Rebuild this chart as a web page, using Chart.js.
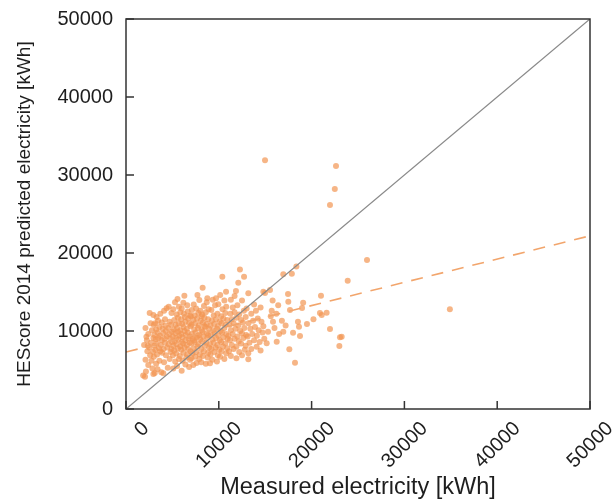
<!DOCTYPE html>
<html>
<head>
<meta charset="utf-8">
<title>HEScore 2014 vs measured electricity</title>
<script src="https://cdn.jsdelivr.net/npm/chart.js@4.4.1/dist/chart.umd.min.js"></script>
<style>
  html, body { margin: 0; padding: 0; background: #fff; }
  #chart { display: block; }
</style>
</head>
<body>
<canvas id="chart" width="614" height="502"></canvas>
<script>
// measured (x) and HEScore predicted (y) electricity per home, kWh
const measuredKwh = [
  1850, 2050, 2150, 2400, 2100, 2600, 2300, 2900, 2500, 1950, 2700, 2250, 2950, 2400, 2800, 2100, 2650, 2950, 2550, 2200, 2850, 2950, 2750, 2350,
  3100, 3400, 3800, 4020, 4500, 3250, 3600, 4100, 4700, 3000, 3350, 3900, 4300, 4800, 3150, 3550, 3700, 4050, 4450, 4900, 3050, 3300, 3750, 4200, 4600, 4950,
  3200, 3500, 3850, 4150, 4400, 4750, 3050, 3400, 3650, 4000, 4300, 4650, 4950, 3250, 3600, 3950, 4250, 4550, 4850, 3150, 3450, 3850, 4200, 4700, 4380, 3700,
  4900, 4100, 3300, 4600, 3000,
  5100, 5500, 6000, 6400, 6800, 5300, 5700, 6100, 6500, 6900, 5050, 5400, 5800, 6200, 6600, 6950, 5200, 5600, 5950, 6300, 6700, 5100, 5450, 5850, 6150, 6550,
  6850, 5250, 5650, 6000, 6400, 6750, 5050, 5400, 5750, 6100, 6450, 6900, 5300, 5600, 5950, 6300, 6650, 5150, 5500, 5850, 6200, 6550, 6950, 5350, 5700, 6050,
  6400, 6800, 5200, 5600, 5950, 6350, 6700, 5450, 5850, 6250, 6650, 5280, 6180, 6290, 5700, 6600, 5100, 6900, 6000, 5550,
  7250, 7600, 8100, 8600, 7050, 7450, 7900, 8300, 8800, 7150, 7550, 7950, 8400, 8850, 7300, 7700, 8100, 8500, 8950, 7050, 7400, 7800, 8200, 8650, 7200, 7600,
  8000, 8350, 8750, 7100, 7500, 7900, 8250, 8700, 7350, 7750, 8150, 8550, 8950, 7050, 7450, 7850, 8300, 8700, 7250, 7650, 8050, 8450, 8850, 7400, 7800, 8200,
  8600, 7100, 7550, 8000, 8900, 7900, 8760, 8260, 7300, 8400, 8700, 9050, 7700, 7000, 8150, 7750, 8450, 7350, 8850,
  9300, 9800, 10130, 10600, 9100, 9500, 9900, 10300, 10800, 9200, 9650, 10050, 10450, 10900, 9050, 9450, 9850, 10250, 10700, 9300, 9700, 10100, 10500, 10950,
  9150, 9550, 9950, 10350, 10800, 9400, 9800, 10200, 10600, 9100, 9500, 9900, 10300, 10750, 9250, 9700, 10100, 10500, 10900, 9450, 9850, 10250, 10700, 9950,
  9200, 10400, 10800, 9600, 10380, 10780, 9700, 10150, 9350, 10600,
  11300, 11900, 12500, 11100, 11600, 12200, 12800, 11400, 11900, 12400, 12900, 11200, 11700, 12150, 12650, 11050, 11500, 12000, 12500, 12950, 11300, 11800,
  12300, 12750, 11150, 11600, 12100, 12600, 11400, 11900, 12400, 12900, 11250, 11700, 12200, 12700, 11500, 12000, 11850, 12100, 12280, 12720, 11300, 12500,
  11700, 13000,
  13180, 13180, 14080, 13500, 14500, 13300, 13800, 14400, 14900, 13100, 13600, 14100, 14700, 13400, 13900, 14300, 14800, 13200, 13700, 14200, 14600, 13500,
  14000, 13180, 14800, 14980, 13800, 14500, 15160,
  15520, 15700, 15840, 16240, 15300, 16000, 16500, 16950, 15600, 16200, 16800, 17460, 16950, 17870, 17490, 17670, 17600, 16400, 15800, 17200,
  18360, 18000, 18210, 18530, 18640, 18750, 18970, 19090, 20900, 21620, 21010, 21090, 21980, 23060, 22990, 23240, 23890, 19500, 20200,
  14980, 22630, 22500, 21980, 25970, 34900
];
const predictedKwh = [
  4300, 4150, 4800, 5650, 6300, 6900, 7400, 7350, 7900, 8200, 8500, 8800, 9100, 9600, 10100, 10400, 11000, 12050, 12300, 9250, 5200, 4500, 6200, 8100,
  4600, 5100, 4700, 4570, 5300, 5800, 6200, 6000, 6400, 6700, 7000, 7200, 6900, 7300, 7600, 7800, 7400, 7700, 7900, 7700, 8100, 8400, 8200, 8500, 8300, 8600,
  8900, 9100, 8800, 9000, 9300, 9050, 9500, 9800, 9400, 9700, 10000, 9600, 9900, 10200, 10500, 10300, 10700, 10400, 10800, 11000, 11300, 11100, 11500, 11200, 12910, 12200,
  12300, 12600, 11800, 13100, 10800,
  5200, 5500, 4910, 5700, 5400, 6100, 6400, 6200, 6600, 6300, 6900, 7100, 6800, 7200, 7000, 7400, 7500, 7800, 7600, 7900, 7700, 8100, 8300, 8000, 8400, 8200,
  8500, 8700, 8900, 8600, 8800, 9000, 9300, 9100, 9400, 9200, 9500, 9300, 9700, 9900, 9600, 10000, 9800, 10200, 10400, 10100, 10500, 10300, 10600, 10800, 11000, 10900,
  11200, 11000, 11400, 11700, 11500, 11800, 11600, 12100, 12400, 12200, 12500, 13680, 13630, 14530, 13100, 13300, 12800, 12000, 12900, 14100,
  5640, 5900, 6000, 5800, 6500, 6700, 6400, 6800, 6600, 7100, 7300, 7000, 7400, 7200, 7800, 8000, 7700, 8100, 7900, 8400, 8600, 8300, 8700, 8500, 9000, 9200,
  8900, 9300, 9100, 9600, 9800, 9500, 9900, 9700, 10200, 10400, 10100, 10500, 10300, 10800, 11000, 10700, 11100, 10900, 11400, 11600, 11300, 11700, 11500, 12000, 12300, 12100,
  12400, 12700, 12900, 12600, 12800, 13970, 14190, 15550, 13400, 13200, 13700, 5860, 14600, 11900, 11900, 9400, 10600, 8800, 9500,
  6300, 6100, 6710, 6400, 7000, 7300, 6900, 7400, 7100, 7700, 7900, 7600, 8000, 7800, 8300, 8500, 8200, 8600, 8400, 8900, 9100, 8800, 9200, 9000,
  9500, 9700, 9400, 9800, 9600, 10100, 10300, 10000, 10400, 10700, 10900, 10600, 11000, 10800, 11300, 11500, 11200, 11600, 11400, 12000, 12200, 11900, 12300, 13420,
  12700, 12800, 13100, 13300, 16960, 15040, 14200, 14600, 14000, 13900,
  6800, 6500, 6900, 7400, 7700, 7300, 7600, 8200, 8000, 8400, 8100, 8800, 9000, 8700, 9100, 9400, 9600, 9300, 9700, 9500, 10100, 10300,
  10000, 10400, 10800, 11000, 10700, 11100, 11500, 11700, 11400, 11800, 12200, 12400, 12100, 12600, 13000, 13300, 15130, 16200, 17900, 16960, 14000, 13900,
  14500, 12900,
  7140, 6370, 7990, 7700, 7500, 8500, 8800, 8600, 9000, 9300, 9600, 9400, 9800, 10300, 10500, 10100, 10600, 11000, 11300, 11600, 11200, 12200,
  12600, 14830, 15040, 14870, 13400, 13000, 8420,
  15260, 12600, 11200, 8630, 9900, 10400, 9600, 9910, 11900, 12200, 11300, 14740, 17280, 17350, 13760, 12690, 7650, 13300, 13900, 10700,
  18280, 9780, 5940, 11200, 10550, 9360, 12950, 13630, 12300, 12350, 14530, 12050, 10260, 9190, 8080, 9270, 16450, 10900, 11500,
  31900, 31150, 28200, 26150, 19100, 12800
];

// y = x reference line and the fitted trend (dashed)
const identityX = [0, 50000];
const identityY = [0, 50000];
const fitX = [0, 50000];
const fitY = [7300, 22200];

const axisMax = 50000;
const axisStep = 10000;

const toPoints = (xs, ys) => xs.map((x, i) => ({ x: x, y: ys[i] }));

// box around the plot plus short ticks pointing inward
const frameAndTicks = {
  id: 'frameAndTicks',
  afterDraw(chart) {
    const { ctx, chartArea: a, scales: { x, y } } = chart;
    ctx.save();
    ctx.strokeStyle = '#333';
    ctx.lineWidth = 1.5;
    ctx.strokeRect(a.left, a.top, a.right - a.left, a.bottom - a.top);
    ctx.beginPath();
    x.ticks.forEach(t => {
      const px = x.getPixelForValue(t.value);
      ctx.moveTo(px, a.bottom);
      ctx.lineTo(px, a.bottom - 8);
    });
    y.ticks.forEach(t => {
      const py = y.getPixelForValue(t.value);
      ctx.moveTo(a.left, py);
      ctx.lineTo(a.left + 8, py);
    });
    ctx.stroke();
    ctx.restore();
  }
};

Chart.defaults.font.family = "'Liberation Sans', Arial, sans-serif";
Chart.defaults.color = '#1e1e1e';

new Chart(document.getElementById('chart'), {
  type: 'scatter',
  data: {
    datasets: [
      {
        type: 'line',
        data: toPoints(identityX, identityY),
        borderColor: '#8a8a8a',
        borderWidth: 1.3,
        pointRadius: 0,
        order: 0
      },
      {
        type: 'line',
        data: toPoints(fitX, fitY),
        borderColor: '#f2a56c',
        borderWidth: 1.6,
        borderDash: [12, 9],
        pointRadius: 0,
        order: 0
      },
      {
        data: toPoints(measuredKwh, predictedKwh),
        backgroundColor: 'rgba(242, 150, 82, 0.7)',
        borderWidth: 0,
        pointRadius: 3,
        order: 1
      }
    ]
  },
  plugins: [frameAndTicks],
  options: {
    responsive: false,
    animation: false,
    layout: { padding: { top: 19, right: 24, left: 0, bottom: 0 } },
    plugins: {
      legend: { display: false },
      tooltip: { enabled: false }
    },
    scales: {
      x: {
        type: 'linear',
        min: 0,
        max: axisMax,
        grid: { display: false, drawTicks: false },
        border: { display: false },
        ticks: {
          stepSize: axisStep,
          minRotation: 45,
          maxRotation: 45,
          padding: 8,
          labelOffset: 20,
          font: { size: 20 },
          callback: v => String(v)
        },
        title: {
          display: true,
          text: 'Measured electricity [kWh]',
          font: { size: 23.5 },
          padding: { top: 0, bottom: 0 }
        },
        afterFit(scale) {
          scale.height = 93;
          scale.paddingLeft = 0;
          scale.paddingRight = 0;
        }
      },
      y: {
        type: 'linear',
        min: 0,
        max: axisMax,
        grid: { display: false, drawTicks: false },
        border: { display: false },
        ticks: {
          stepSize: axisStep,
          padding: 13,
          font: { size: 20 },
          callback: v => String(v)
        },
        title: {
          display: true,
          text: 'HEScore 2014 predicted electricity [kWh]',
          font: { size: 19 },
          padding: { top: 13, bottom: 0 }
        },
        afterFit(scale) {
          scale.width = 126;
          scale.paddingTop = 0;
          scale.paddingBottom = 0;
        }
      }
    }
  }
});
</script>
</body>
</html>
